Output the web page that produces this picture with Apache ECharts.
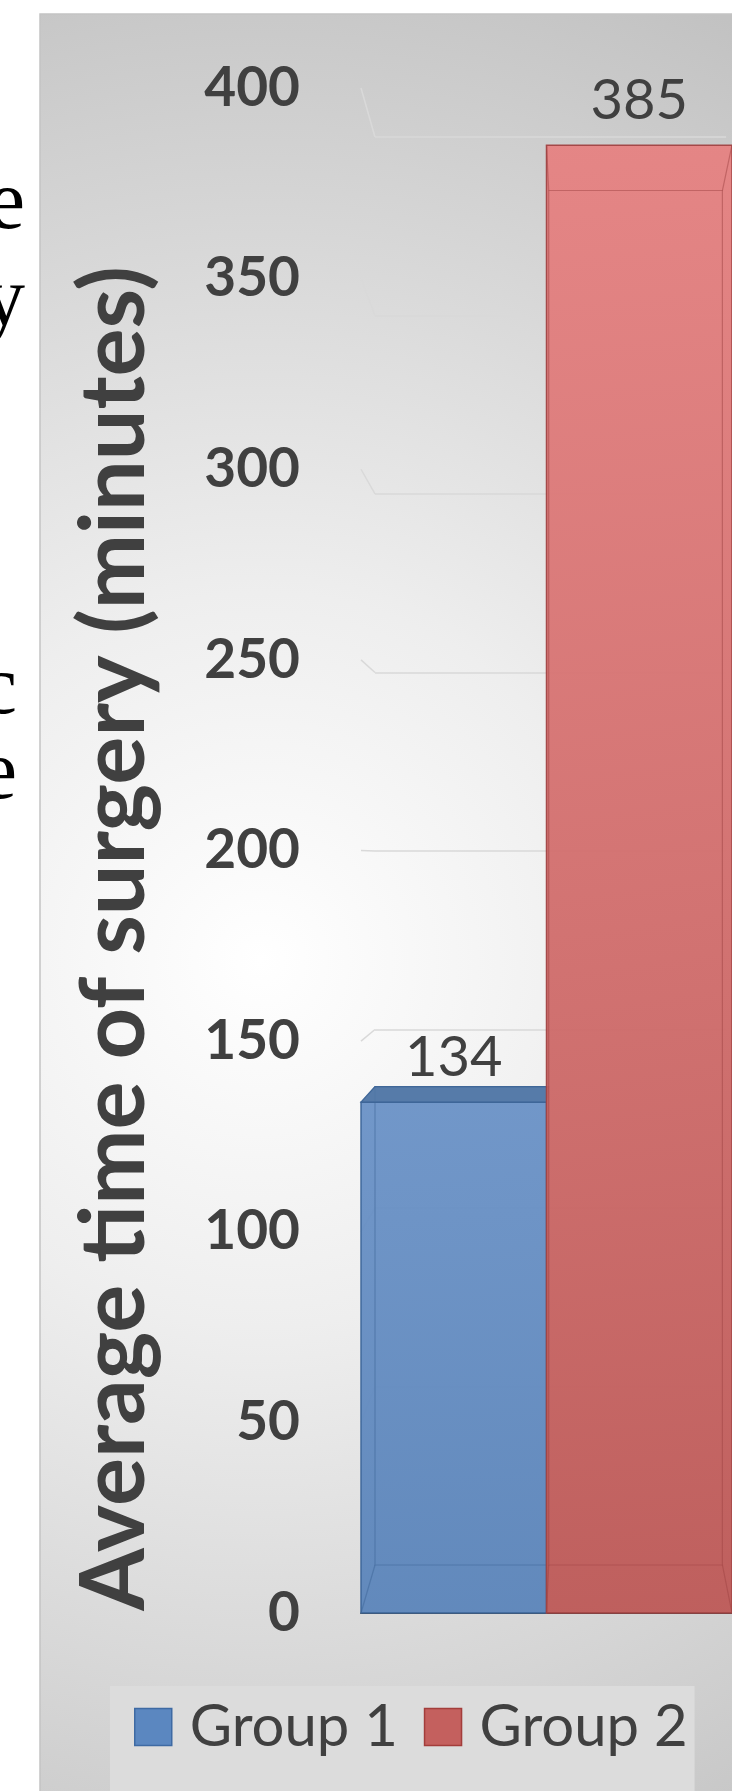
<!DOCTYPE html>
<html><head><meta charset="utf-8">
<script src="https://cdn.jsdelivr.net/npm/echarts@6/dist/echarts.min.js"></script>
<style>html,body{margin:0;padding:0;background:#fff;}#c{width:732px;height:1791px;}</style>
</head><body><div id="c"></div>
<script>
// ---------------- data ----------------
const categories = ['Surgery'];
const seriesNames = ['Group 1', 'Group 2'];
const group1Values = [134];
const group2Values = [385];
const yMin = 0, yMax = 400, yStep = 50;
const yTickValues = [0, 50, 100, 150, 200, 250, 300, 350, 400];
const yAxisTitle = 'Average time of surgery (minutes)';
const sideTextFragments = ['e', 'y', 'c', 'e'];

// ---------------- style / layout ----------------
const FRONT = {left: 361, top: 88, width: 375, height: 1525};
const K = 0.9364, VX = 581, VY = 858;           // perspective of the back wall
function P(x, y) { return [VX + (x - VX) * K, VY + (y - VY) * K]; }
const bt = P(FRONT.left, FRONT.top), bb = P(FRONT.left + FRONT.width, FRONT.top + FRONT.height);
const BACK = {left: bt[0], top: bt[1], width: bb[0] - bt[0], height: bb[1] - bt[1]};

const PALETTE = [
  {top: '#6991c6', bottom: '#5a84ba', edge: '#3d6597', face: '#4d74a4', legend: '#5b87c0', legendEdge: '#3e6aa3'},
  {top: '#e68181', bottom: '#bd5856', edge: '#a04343', face: '#cc6a6a', legend: '#c4605e', legendEdge: '#a33d3b'}
];
const GRID_COLOR = '#d9d9d9';
const TEXT_COLOR = '#404040';

function barRenderer(idx) {
  const pal = PALETTE[idx];
  return function (params, api) {
    const cat = api.value(0), v = api.value(1);
    const base = api.coord([cat, 0]);
    const top = api.coord([cat, v]);
    const band = api.size([1, 0])[0];
    const w = band / seriesNames.length;
    const x0 = base[0] - band / 2 + idx * w, x1 = x0 + w;
    const yb = base[1], yt = top[1];
    const b00 = P(x0, yb), b10 = P(x1, yb), b01 = P(x0, yt), b11 = P(x1, yt);
    const edge = {stroke: pal.edge, lineWidth: 1.2, opacity: 0.5, fill: null};
    const children = [
      {type: 'rect', shape: {x: x0, y: yt, width: w, height: yb - yt},
        style: {fill: {type: 'linear', x: 0, y: 0, x2: 0, y2: 1, colorStops: [
          {offset: 0, color: pal.top}, {offset: 1, color: pal.bottom}]},
          stroke: pal.edge, lineWidth: 1.5, opacity: 0.94}},
      {type: 'polygon', shape: {points: [b01, b11, b10, b00]}, style: edge},
      {type: 'line', shape: {x1: x0, y1: yb, x2: b00[0], y2: b00[1]}, style: edge},
      {type: 'line', shape: {x1: x1, y1: yb, x2: b10[0], y2: b10[1]}, style: edge},
      {type: 'line', shape: {x1: x0, y1: yt, x2: b01[0], y2: b01[1]}, style: edge},
      {type: 'line', shape: {x1: x1, y1: yt, x2: b11[0], y2: b11[1]}, style: edge}
    ];
    if (yt > VY) {
      children.push({type: 'polygon', shape: {points: [[x0, yt], [x1, yt], b11, b01]},
        style: {fill: pal.face, stroke: pal.edge, lineWidth: 1.2, opacity: 0.95}});
    }
    children.push({type: 'text', x: (x0 + x1) / 2, y: yt - 16,
      style: {text: String(v), textAlign: 'center', textVerticalAlign: 'bottom',
        fontFamily: 'Lato', fontSize: 56, fill: TEXT_COLOR}});
    return {type: 'group', children: children};
  };
}

const chart = echarts.init(document.getElementById('c'), null, {renderer: 'canvas'});

const fragY = [206, 303, 691, 776];
const fragX = [25, 25, 17, 17];

chart.setOption({
  animation: false,
  graphic: [
    {type: 'rect', z: -10, shape: {x: 40, y: 14, width: 760, height: 1800},
      style: {fill: {type: 'radial', x: 260, y: 960, r: 1050, global: true, colorStops: [
        {offset: 0, color: '#ffffff'}, {offset: 0.35, color: '#eeeeee'},
        {offset: 0.75, color: '#d3d3d3'}, {offset: 1, color: '#c2c2c2'}]},
        stroke: '#c4c4c4', lineWidth: 1.5}}
  ].concat(sideTextFragments.map((t, i) => ({
    type: 'text', z: -5, x: fragX[i], y: fragY[i],
    style: {text: t, textAlign: 'right', textVerticalAlign: 'middle',
      fontFamily: 'Liberation Serif', fontSize: 84, fill: '#000'}
  }))),
  legend: {
    data: seriesNames.map((n, i) => ({name: n, icon: 'rect',
      itemStyle: {color: PALETTE[i].legend, borderColor: PALETTE[i].legendEdge, borderWidth: 1.5}})),
    left: 110, top: 1686, itemWidth: 37, itemHeight: 37, itemGap: 26,
    padding: [12, 7, 45, 24], backgroundColor: '#dcdcdc',
    textStyle: {fontFamily: 'Lato', fontSize: 58, lineHeight: 40, color: TEXT_COLOR, padding: [0, 0, 0, 13]}
  },
  grid: [
    {left: FRONT.left, top: FRONT.top, width: FRONT.width, height: FRONT.height},
    {left: BACK.left, top: BACK.top, width: BACK.width, height: BACK.height}
  ],
  xAxis: [
    {gridIndex: 0, type: 'category', data: categories,
      axisLine: {lineStyle: {color: TEXT_COLOR, width: 2}}, axisTick: {show: false}, axisLabel: {show: false}},
    {gridIndex: 1, type: 'category', data: categories, show: false}
  ],
  yAxis: [
    {gridIndex: 0, type: 'value', min: yMin, max: yMax, interval: yStep,
      splitLine: {show: false}, axisLine: {show: false}, axisTick: {show: false},
      axisLabel: {fontFamily: 'Lato', fontWeight: 'bold', fontSize: 55, color: TEXT_COLOR, margin: 61,
        padding: [8, 0, 0, 0]},
      name: yAxisTitle, nameLocation: 'middle', nameGap: 201,
      nameTextStyle: {fontFamily: 'Lato', fontWeight: 'bold', fontSize: 90, color: TEXT_COLOR,
        padding: [0, 176, 0, 0]}},
    {gridIndex: 1, type: 'value', min: yMin, max: yMax, interval: yStep,
      axisLine: {show: false}, axisTick: {show: false}, axisLabel: {show: false},
      splitLine: {lineStyle: {color: GRID_COLOR, width: 1.5}}}
  ],
  series: [
    {type: 'custom', name: 'side-wall', silent: true, xAxisIndex: 0, yAxisIndex: 0, z: 1,
      data: yTickValues.map(v => [0, v]),
      renderItem: function (params, api) {
        const f = api.coord([0, api.value(1)]);
        const x = params.coordSys.x;
        const b = P(x, f[1]);
        return {type: 'line', shape: {x1: x, y1: f[1], x2: b[0], y2: b[1]},
          style: {stroke: GRID_COLOR, lineWidth: 1.5}};
      }},
    {type: 'custom', name: seriesNames[0], xAxisIndex: 0, yAxisIndex: 0, z: 3,
      itemStyle: {color: PALETTE[0].legend},
      encode: {x: 0, y: 1},
      data: group1Values.map((v, i) => [i, v]),
      renderItem: barRenderer(0)},
    {type: 'custom', name: seriesNames[1], xAxisIndex: 0, yAxisIndex: 0, z: 4,
      itemStyle: {color: PALETTE[1].legend},
      encode: {x: 0, y: 1},
      data: group2Values.map((v, i) => [i, v]),
      renderItem: barRenderer(1)}
  ]
});
</script></body></html>
